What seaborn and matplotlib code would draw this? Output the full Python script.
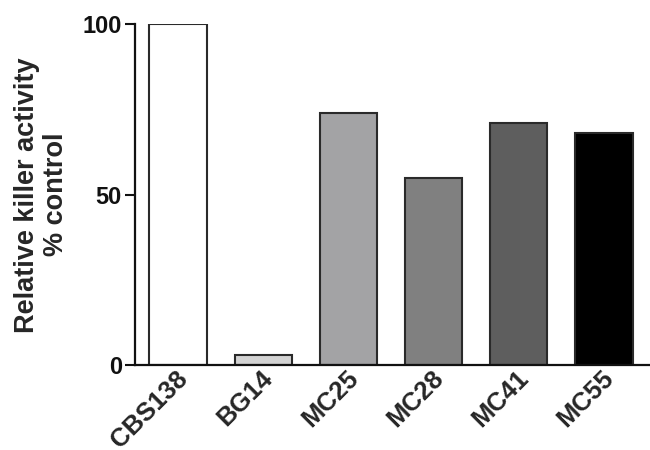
import pandas as pd
import matplotlib.pyplot as plt
import matplotlib.transforms as mtransforms
import seaborn as sns

# 数据
strains = ['CBS138', 'BG14', 'MC25', 'MC28', 'MC41', 'MC55']
activity = [100, 3, 74, 55, 71, 68]
bar_colors = ['#ffffff', '#d3d3d3', '#a3a3a5', '#808080', '#5e5e5e', '#000000']

df = pd.DataFrame({'strain': strains, 'activity': activity})

sns.set_style('ticks')
plt.rcParams['font.family'] = ['Liberation Sans', 'DejaVu Sans']
plt.rcParams['font.weight'] = 'bold'

fig = plt.figure(figsize=(6.5, 4.5), dpi=100)
ax = fig.add_axes([0.2077, 0.1889, 0.7923, 0.7567])

sns.barplot(data=df, x='strain', y='activity', hue='strain', palette=bar_colors,
            legend=False, width=0.67, edgecolor='#2a2a2a', linewidth=1.5,
            saturation=1, ax=ax)

ax.set_ylim(0, 100)
ax.set_xlim(-0.505, 5.54)
ax.set_yticks([0, 50, 100])
ax.tick_params(axis='y', length=7.5, width=1.5, labelsize=17, pad=2, colors='#111111')
ax.tick_params(axis='x', length=0, labelsize=18.5, pad=7)
for lbl in ax.get_yticklabels():
    lbl.set_fontweight('bold')

# x 标签右移一点
shift = mtransforms.ScaledTranslation(6 / 100, 0, fig.dpi_scale_trans)
for lbl in ax.get_xticklabels():
    lbl.set_rotation(45)
    lbl.set_ha('right')
    lbl.set_va('center')
    lbl.set_rotation_mode('anchor')
    lbl.set_fontweight('bold')
    lbl.set_transform(lbl.get_transform() + shift)

ax.set_xlabel('')
ax.set_ylabel('Relative killer activity\n% control', fontsize=19.5, fontweight='bold',
              labelpad=10, linespacing=1.15)

sns.despine(ax=ax, top=True, right=True)
ax.spines['left'].set_linewidth(1.6)
ax.spines['bottom'].set_linewidth(1.6)
ax.spines['left'].set_color('#111111')
ax.spines['bottom'].set_color('#111111')

fig.savefig('out.png', dpi=100)
